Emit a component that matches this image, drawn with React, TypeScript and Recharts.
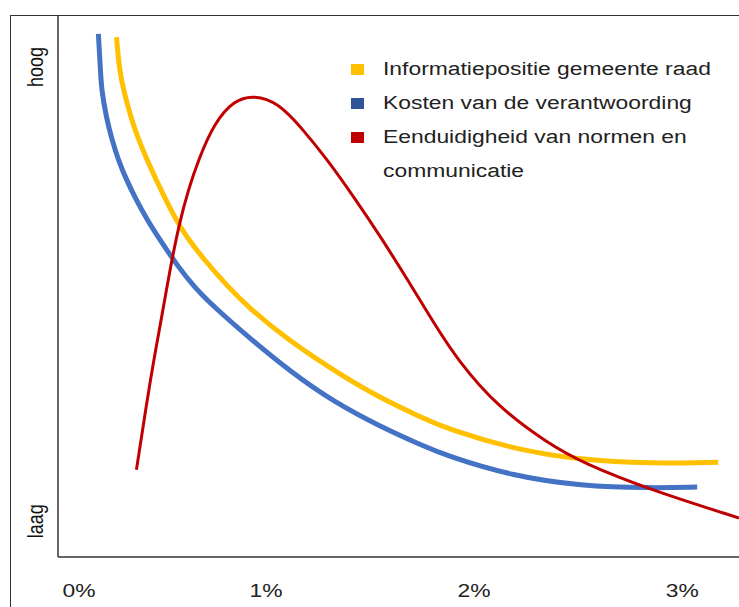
import React from 'react';
import { LineChart, Line, XAxis, YAxis } from 'recharts';

// x in %, y on a 0-100 "laag"–"hoog" scale
const infoX = [0.281, 0.295, 0.314, 0.367, 0.434, 0.511, 0.592, 0.703, 0.818, 0.914, 1.105, 1.374, 1.552, 1.743, 1.873, 2.189, 2.511, 2.847, 3.173];
const infoY = [95.9, 89.9, 86.2, 78.8, 72.7, 66.4, 60.3, 54.8, 49.8, 46.1, 40.0, 33.2, 29.3, 25.8, 23.6, 19.9, 17.9, 17.2, 17.5];

const kostenX = [0.194, 0.204, 0.209, 0.233, 0.257, 0.29, 0.329, 0.376, 0.429, 0.482, 0.578, 0.655, 0.751, 0.914, 1.12, 1.326, 1.552, 1.743, 1.873, 2.189, 2.511, 2.847, 3.072];
const kostenY = [96.5, 89.9, 86.2, 81.0, 77.3, 73.2, 69.6, 65.9, 62.2, 59.0, 53.5, 49.8, 46.1, 40.6, 34.1, 28.6, 24.0, 20.7, 18.6, 14.9, 13.1, 12.7, 12.9];

const normenX = [0.377, 0.448, 0.496, 0.535, 0.583, 0.626, 0.674, 0.751, 0.847, 0.942, 1.058, 1.168, 1.297, 1.422, 1.552, 1.681, 1.806, 1.921, 2.113, 2.353, 2.525, 2.847, 3.273];
const normenY = [16.1, 33.9, 43.7, 52.4, 61.6, 67.7, 73.2, 80.1, 84.3, 85.2, 83.8, 79.3, 73.2, 66.4, 59.0, 51.1, 43.2, 36.3, 27.7, 21.0, 17.3, 12.4, 7.2];

const xTicks = [0, 1, 2, 3];
const yTickValues = [6.6, 90.4];
const yTickLabels = ['laag', 'hoog'];

const seriesNames = ['Informatiepositie gemeente raad', 'Kosten van de verantwoording', 'Eenduidigheid van normen en', 'communicatie'];
const lineColors = ['#FFC000', '#4472C4', '#C00000'];
const legendColors = ['#FFC000', '#2F5597', '#C00000'];

const toPoints = (xs: number[], ys: number[]) => xs.map((x, i) => ({ x, y: ys[i] }));

const FONT = '"Liberation Sans", Arial, sans-serif';
const STRETCH = 1.27;

const XTick = (props: any) => {
  const { x, y, payload } = props;
  const shift = payload.value === 0 ? 21 : 0;
  return (
    <text
      transform={`translate(${x + shift}, ${y + 32}) scale(${STRETCH}, 1)`}
      textAnchor="middle"
      fill="#222"
      fontSize={18}
      fontFamily={FONT}
    >
      {payload.value}%
    </text>
  );
};

const YTick = (props: any) => {
  const { y, payload } = props;
  const idx = yTickValues.indexOf(payload.value);
  return (
    <text
      transform={`translate(43, ${y}) rotate(-90) scale(1, ${STRETCH})`}
      textAnchor="middle"
      fill="#111"
      fontSize={18}
      fontFamily={FONT}
    >
      {yTickLabels[idx]}
    </text>
  );
};

const LegendBox = () => (
  <div style={{ position: 'absolute', left: 351, top: 52, fontFamily: FONT, fontSize: 18, color: '#222', lineHeight: '34px' }}>
    {seriesNames.map((name, i) => (
      <div key={i} style={{ display: 'flex', alignItems: 'center', height: 34 }}>
        <span style={{ width: 13, height: 11, background: i < 3 ? legendColors[i] : 'transparent', marginRight: 19, display: 'inline-block' }} />
        <span style={{ display: 'inline-block', transform: `scaleX(${STRETCH})`, transformOrigin: 'left center', whiteSpace: 'nowrap' }}>{name}</span>
      </div>
    ))}
  </div>
);

export default function App() {
  return (
    <div style={{ position: 'absolute', left: 0, top: 0, width: 739, height: 607, background: '#fff', overflow: 'hidden' }}>
      <div style={{ position: 'absolute', left: 10, top: 15, right: 0, bottom: 0, borderLeft: '1.5px solid #333', borderTop: '1.5px solid #333' }} />
      <LineChart width={739} height={607} margin={{ top: 15, right: 0, left: 10, bottom: 20 }}>
        <XAxis
          type="number"
          dataKey="x"
          domain={[0, 3.273]}
          ticks={xTicks}
          tick={<XTick />}
          tickLine={false}
          height={30}
          axisLine={{ stroke: '#333', strokeWidth: 1.5 }}
          allowDataOverflow
        />
        <YAxis
          type="number"
          dataKey="y"
          domain={[0, 100]}
          ticks={yTickValues}
          tick={<YTick />}
          tickLine={false}
          width={48}
          axisLine={{ stroke: '#333', strokeWidth: 1.5 }}
        />
        <Line data={toPoints(infoX, infoY)} dataKey="y" name={seriesNames[0]} type="basis" stroke={lineColors[0]} strokeWidth={5} dot={false} isAnimationActive={false} />
        <Line data={toPoints(kostenX, kostenY)} dataKey="y" name={seriesNames[1]} type="basis" stroke={lineColors[1]} strokeWidth={5} dot={false} isAnimationActive={false} />
        <Line data={toPoints(normenX, normenY)} dataKey="y" name={seriesNames[2]} type="basis" stroke={lineColors[2]} strokeWidth={3} dot={false} isAnimationActive={false} />
      </LineChart>
      <LegendBox />
    </div>
  );
}
